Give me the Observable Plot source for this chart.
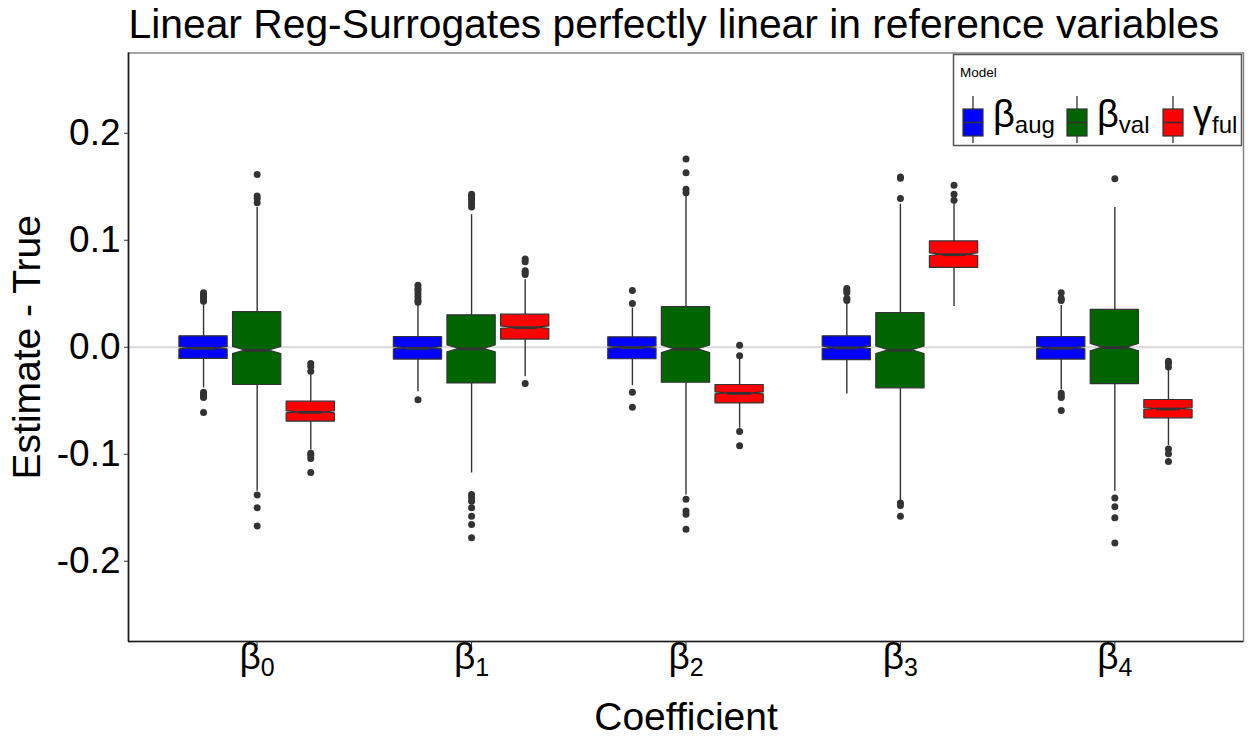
<!DOCTYPE html>
<html>
<head>
<meta charset="utf-8">
<script src="https://cdn.jsdelivr.net/npm/d3@7"></script>
<script src="https://cdn.jsdelivr.net/npm/@observablehq/plot@0.6"></script>
<style>
  body { margin: 0; background: white; }
  #chart svg { display: block; }
</style>
</head>
<body>
<div id="chart"></div>
<script>
// ---- data ----
const coefficients = ["β0", "β1", "β2", "β3", "β4"];
const models = ["aug", "val", "ful"];
const modelGreek = ["β", "β", "γ"];
const modelColors = ["#0000ff", "#006400", "#ff0000"];
const yTicks = [-0.2, -0.1, 0.0, 0.1, 0.2];
const nSim = 1000; // simulations per box (used for notch size, as ggplot)

// rows: models (aug, val, ful); columns: coefficients β0..β4
const lowerHinge = [
  [-0.0109, -0.0115, -0.0112, -0.0121, -0.0115],
  [-0.0353, -0.0338, -0.0332, -0.0384, -0.0344],
  [-0.0695, 0.0072, -0.0524, 0.0741, -0.0664]
];
const medians = [
  [-0.0010, -0.0010, -0.0003, -0.0006, -0.0009],
  [-0.0030, -0.0015, -0.0019, -0.0028, -0.0003],
  [-0.0608, 0.0183, -0.0431, 0.0865, -0.0577]
];
const upperHinge = [
  [0.0102, 0.0096, 0.0093, 0.0102, 0.0096],
  [0.0328, 0.0298, 0.0375, 0.0319, 0.0350],
  [-0.0509, 0.0304, -0.0353, 0.0989, -0.0493]
];
const whiskerLow = [
  [-0.038, -0.0415, -0.036, -0.0437, -0.040],
  [-0.1346, -0.1175, -0.138, -0.1448, -0.1346],
  [-0.096, -0.0276, -0.0757, 0.0381, -0.092]
];
const whiskerHigh = [
  [0.042, 0.040, 0.0366, 0.042, 0.039],
  [0.1305, 0.124, 0.142, 0.1337, 0.1305],
  [-0.024, 0.063, -0.0096, 0.135, -0.0214]
];
const outliersAug = [
  [0.051, 0.049, 0.047, 0.045, 0.043, -0.042, -0.044, -0.046, -0.047, -0.061],
  [0.058, 0.055, 0.053, 0.050, 0.047, 0.044, 0.042, -0.049],
  [0.053, 0.041, -0.042, -0.056],
  [0.055, 0.053, 0.051, 0.0456, 0.0437],
  [0.051, 0.0456, 0.0437, -0.043, -0.0456, -0.047, -0.059]
];
const outliersVal = [
  [0.1615, 0.1414, 0.139, 0.135, -0.138, -0.150, -0.167],
  [0.143, 0.141, 0.139, 0.137, 0.134, 0.131, -0.1377, -0.1405, -0.144, -0.150, -0.158, -0.1656, -0.178],
  [0.176, 0.163, 0.1476, 0.1445, -0.142, -0.153, -0.156, -0.170],
  [0.159, 0.158, 0.139, -0.1455, -0.148, -0.158],
  [0.1575, -0.1408, -0.149, -0.1594, -0.183]
];
const outliersFul = [
  [-0.0152, -0.018, -0.0225, -0.099, -0.101, -0.104, -0.117],
  [0.0825, 0.080, 0.0716, 0.070, 0.068, -0.0338],
  [0.0019, -0.008, -0.0788, -0.092],
  [0.1513, 0.143, 0.1374],
  [-0.013, -0.015, -0.0185, -0.095, -0.0995, -0.1067]
];
const outliers = [outliersAug, outliersVal, outliersFul];

// ---- derived tables ----
const dodge = [-0.25, 0, 0.25];
const boxWidth = 0.225;
const boxes = [];
models.forEach((m, mi) => {
  coefficients.forEach((c, ci) => {
    const x = ci + 1 + dodge[mi];
    const q1 = lowerHinge[mi][ci], q3 = upperHinge[mi][ci], med = medians[mi][ci];
    const notch = 1.58 * (q3 - q1) / Math.sqrt(nSim);
    boxes.push({
      key: m + ci, model: m, mi, x,
      xmin: x - boxWidth / 2, xmax: x + boxWidth / 2,
      indent: boxWidth * 0.25,
      q1, q3, med, notch,
      lo: whiskerLow[mi][ci], hi: whiskerHigh[mi][ci]
    });
  });
});
const outline = boxes.flatMap(b => [
  {key: b.key, mi: b.mi, y: b.q1, x1: b.xmin, x2: b.xmax},
  {key: b.key, mi: b.mi, y: b.med - b.notch, x1: b.xmin, x2: b.xmax},
  {key: b.key, mi: b.mi, y: b.med, x1: b.xmin + b.indent, x2: b.xmax - b.indent},
  {key: b.key, mi: b.mi, y: b.med + b.notch, x1: b.xmin, x2: b.xmax},
  {key: b.key, mi: b.mi, y: b.q3, x1: b.xmin, x2: b.xmax}
]);
const points = [];
models.forEach((m, mi) => coefficients.forEach((c, ci) =>
  outliers[mi][ci].forEach(v => points.push({x: ci + 1 + dodge[mi], y: v}))));

const FONT = "'Liberation Sans', Arial, Helvetica, sans-serif";
const ink = "#333333";

const chart = Plot.plot({
  width: 1249,
  height: 737,
  marginLeft: 128,
  marginRight: 6,
  marginTop: 52.5,
  marginBottom: 96,
  style: {fontFamily: FONT, background: "white", color: "black"},
  x: {type: "linear", domain: [0.4, 5.6], axis: null},
  y: {domain: [-0.275, 0.275], axis: null},
  marks: [
    Plot.frame({stroke: "#808080", strokeWidth: 1.4}),
    Plot.ruleY([0], {stroke: "#d9d9d9", strokeWidth: 2}),
    Plot.ruleX(boxes, {x: "x", y1: "q3", y2: "hi", stroke: ink, strokeWidth: 1.4}),
    Plot.ruleX(boxes, {x: "x", y1: "q1", y2: "lo", stroke: ink, strokeWidth: 1.4}),
    ...modelColors.map((col, mi) =>
      Plot.areaX(outline.filter(d => d.mi === mi), {
        y: "y", x1: "x1", x2: "x2", z: "key", curve: "linear",
        fill: col, stroke: ink, strokeWidth: 1.2
      })),
    Plot.ruleY(boxes, {y: "med", x1: b => b.xmin + b.indent, x2: b => b.xmax - b.indent, stroke: ink, strokeWidth: 2.8}),
    Plot.dot(points, {x: "x", y: "y", r: 3.5, fill: ink, stroke: null}),
    Plot.ruleX([0.4], {stroke: "#1a1a1a", strokeWidth: 1.6}),
    Plot.ruleY([-0.275], {stroke: "#1a1a1a", strokeWidth: 1.6}),
    Plot.axisY({ticks: yTicks, tickFormat: d => d.toFixed(1), fontSize: 37, tickSize: 4, tickPadding: 4, label: null, stroke: ink, fill: "black"}),
    Plot.axisX({ticks: [1, 2, 3, 4, 5], tickFormat: i => coefficients[i - 1], fontSize: 37, tickSize: 5, tickPadding: -4, label: null, stroke: ink, fill: "black"}),
    Plot.text(["Linear Reg-Surrogates perfectly linear in reference variables"], {
      frameAnchor: "top-left", textAnchor: "start", lineAnchor: "middle", dy: -28.5, fontSize: 40.8, fill: "black"
    }),
    Plot.text(["Estimate - True"], {
      frameAnchor: "left", textAnchor: "middle", rotate: -90, lineAnchor: "middle", dx: -101, fontSize: 39, fill: "black"
    }),
    Plot.text(["Coefficient"], {
      frameAnchor: "bottom", textAnchor: "middle", lineAnchor: "middle", dy: 76, fontSize: 39, fill: "black"
    })
  ]
});
document.getElementById("chart").appendChild(chart);

// subscripts on x tick labels
const svg = d3.select(chart);
svg.selectAll('g[aria-label="x-axis tick label"] text').each(function() {
  const t = d3.select(this);
  const s = t.text();
  t.text("");
  t.append("tspan").text(s.slice(0, 1));
  t.append("tspan").attr("font-size", 25).attr("dy", 7).text(s.slice(1));
});

// legend (inside the panel, top right)
const lg = svg.append("g").attr("font-family", FONT).attr("text-anchor", "start");
lg.append("rect").attr("x", 953.5).attr("y", 54.5).attr("width", 288).attr("height", 91)
  .attr("fill", "white").attr("stroke", "#555").attr("stroke-width", 1.5);
lg.append("text").attr("x", 960).attr("y", 77).attr("font-size", 13.5).attr("fill", "black").text("Model");
const keyX = [973, 1077, 1173];
models.forEach((m, i) => {
  const cx = keyX[i];
  lg.append("line").attr("x1", cx).attr("x2", cx).attr("y1", 96).attr("y2", 143).attr("stroke", ink).attr("stroke-width", 1.3);
  lg.append("rect").attr("x", cx - 10).attr("y", 109).attr("width", 20).attr("height", 27)
    .attr("fill", modelColors[i]).attr("stroke", ink).attr("stroke-width", 1.2);
  lg.append("line").attr("x1", cx - 10).attr("x2", cx + 10).attr("y1", 122.5).attr("y2", 122.5).attr("stroke", ink).attr("stroke-width", 1.5);
  const tx = lg.append("text").attr("x", cx + 20).attr("y", 127).attr("fill", "black");
  tx.append("tspan").attr("font-size", 38).text(modelGreek[i]);
  tx.append("tspan").attr("font-size", 24).attr("dy", 6).text(m);
});
</script>
</body>
</html>
